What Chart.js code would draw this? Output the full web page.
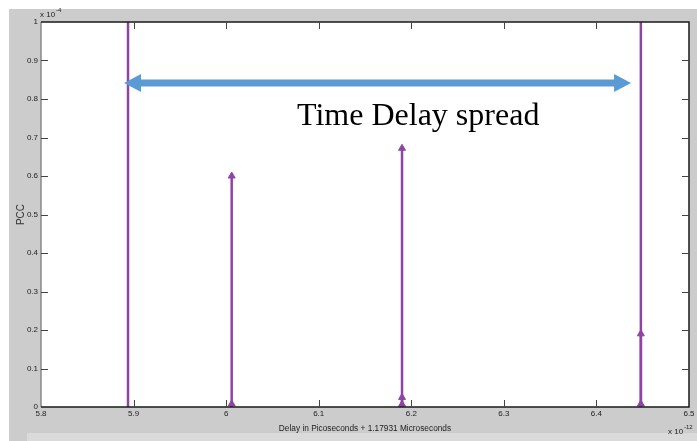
<!DOCTYPE html>
<html>
<head>
<meta charset="utf-8">
<script src="https://cdn.jsdelivr.net/npm/chart.js@4.4.1/dist/chart.umd.min.js"></script>
<style>
  html, body { margin: 0; padding: 0; background: #ffffff; }
  canvas { display: block; }
</style>
</head>
<body>
<canvas id="pccChart" width="697" height="441"></canvas>
<script>
// Stem samples: delay (x 1e-12, offset from 1.17931 us) and PCC (x 1e-4)
const delays = [5.894, 6.006, 6.006, 6.19, 6.19, 6.19, 6.448, 6.448, 6.448];
const pccValues = [1.8, 0.6, 0.008, 0.672, 0.025, 0.007, 1.8, 0.19, 0.008];

const xTicks = [5.8, 5.9, 6.0, 6.1, 6.2, 6.3, 6.4, 6.5];
const xTickLabels = ["5.8", "5.9", "6", "6.1", "6.2", "6.3", "6.4", "6.5"];
const yTicks = [0, 0.1, 0.2, 0.3, 0.4, 0.5, 0.6, 0.7, 0.8, 0.9, 1];
const yTickLabels = ["0", "0.1", "0.2", "0.3", "0.4", "0.5", "0.6", "0.7", "0.8", "0.9", "1"];

// Spread annotation (data units)
const spreadFrom = 5.8897;
const spreadTo = 6.4374;
const spreadLevel = 0.8416;
const spreadLabel = "Time Delay spread";
const spreadLabelX = 6.0766;
const spreadLabelY = 0.7325;

const STEM_COLOR = "#8f44a4";
const ARROW_COLOR = "#5b9bd5";
const SMALL_FONT = "'Liberation Sans', Arial, sans-serif";

const points = delays.map((d, i) => ({ x: d, y: pccValues[i] }));

// Figure background, stems, axes box, inward ticks and the spread arrow
const matlabFigure = {
    id: "matlabFigure",
    beforeDraw(chart) {
        const ctx = chart.ctx;
        const area = chart.chartArea;
        ctx.save();
        ctx.fillStyle = "#cccccc";
        ctx.fillRect(9, 9, chart.width - 9, chart.height - 9);
        ctx.fillStyle = "#dadada";
        ctx.fillRect(27, 433, chart.width - 27, chart.height - 433);
        ctx.fillStyle = "#ffffff";
        ctx.fillRect(area.left, area.top, area.right - area.left, area.bottom - area.top);
        ctx.restore();
    },
    beforeDatasetsDraw(chart) {
        const ctx = chart.ctx;
        const area = chart.chartArea;
        const xs = chart.scales.x;
        const ys = chart.scales.y;
        ctx.save();
        ctx.beginPath();
        ctx.rect(area.left, area.top, area.right - area.left, area.bottom - area.top);
        ctx.clip();
        ctx.strokeStyle = STEM_COLOR;
        ctx.lineWidth = 2.5;
        points.forEach((p) => {
            const px = xs.getPixelForValue(p.x);
            ctx.beginPath();
            ctx.moveTo(px, ys.getPixelForValue(0));
            ctx.lineTo(px, ys.getPixelForValue(p.y));
            ctx.stroke();
        });
        ctx.restore();
    },
    afterDatasetsDraw(chart) {
        const ctx = chart.ctx;
        const area = chart.chartArea;
        const xs = chart.scales.x;
        const ys = chart.scales.y;
        ctx.save();

        // axes box
        ctx.lineWidth = 1.5;
        ctx.strokeStyle = "#888888";
        ctx.beginPath();
        ctx.moveTo(area.left, area.top);
        ctx.lineTo(area.left, area.bottom);
        ctx.stroke();
        ctx.strokeStyle = "#1a1a1a";
        ctx.beginPath();
        ctx.moveTo(area.left, area.bottom);
        ctx.lineTo(area.right, area.bottom);
        ctx.lineTo(area.right, area.top);
        ctx.lineTo(area.left, area.top);
        ctx.stroke();

        // inward tick marks on all four sides
        const len = 7;
        ctx.lineWidth = 1;
        ctx.strokeStyle = "#444444";
        xTicks.slice(1, -1).forEach((v) => {
            const px = Math.round(xs.getPixelForValue(v)) + 0.5;
            ctx.beginPath();
            ctx.moveTo(px, area.bottom);
            ctx.lineTo(px, area.bottom - len);
            ctx.moveTo(px, area.top);
            ctx.lineTo(px, area.top + len);
            ctx.stroke();
        });
        yTicks.slice(1, -1).forEach((v) => {
            const py = Math.round(ys.getPixelForValue(v)) + 0.5;
            ctx.beginPath();
            ctx.moveTo(area.left, py);
            ctx.lineTo(area.left + len, py);
            ctx.moveTo(area.right, py);
            ctx.lineTo(area.right - len, py);
            ctx.stroke();
        });

        // exponent markers
        ctx.fillStyle = "#222222";
        ctx.textBaseline = "alphabetic";
        ctx.textAlign = "left";
        ctx.font = "8px " + SMALL_FONT;
        ctx.fillText("x 10", area.left - 1, area.top - 5);
        ctx.font = "6px " + SMALL_FONT;
        ctx.fillText("-4", area.left + 15, area.top - 10);
        ctx.font = "8px " + SMALL_FONT;
        ctx.fillText("x 10", area.right - 21, 434);
        ctx.font = "6px " + SMALL_FONT;
        ctx.fillText("-12", area.right - 5, 429);

        // double-headed spread arrow
        const x1 = xs.getPixelForValue(spreadFrom);
        const x2 = xs.getPixelForValue(spreadTo);
        const ay = ys.getPixelForValue(spreadLevel);
        const head = 17;
        const halfHead = 9;
        const halfShaft = 3.5;
        ctx.fillStyle = ARROW_COLOR;
        ctx.beginPath();
        ctx.moveTo(x1, ay);
        ctx.lineTo(x1 + head, ay - halfHead);
        ctx.lineTo(x1 + head, ay - halfShaft);
        ctx.lineTo(x2 - head, ay - halfShaft);
        ctx.lineTo(x2 - head, ay - halfHead);
        ctx.lineTo(x2, ay);
        ctx.lineTo(x2 - head, ay + halfHead);
        ctx.lineTo(x2 - head, ay + halfShaft);
        ctx.lineTo(x1 + head, ay + halfShaft);
        ctx.lineTo(x1 + head, ay + halfHead);
        ctx.closePath();
        ctx.fill();

        ctx.fillStyle = "#000000";
        ctx.font = "32px 'Liberation Serif', 'Times New Roman', serif";
        ctx.fillText(spreadLabel, xs.getPixelForValue(spreadLabelX), ys.getPixelForValue(spreadLabelY));
        ctx.restore();
    },
};

new Chart(document.getElementById("pccChart"), {
    type: "scatter",
    data: {
        datasets: [
            {
                label: "PCC",
                data: points,
                pointStyle: "triangle",
                pointRadius: 4,
                pointBackgroundColor: STEM_COLOR,
                pointBorderColor: STEM_COLOR,
                pointBorderWidth: 1,
                clip: 0,
            },
        ],
    },
    options: {
        responsive: false,
        animation: false,
        layout: { padding: { top: 22, right: 8, left: 0, bottom: 0 } },
        plugins: {
            legend: { display: false },
            tooltip: { enabled: false },
        },
        scales: {
            x: {
                type: "linear",
                min: 5.8,
                max: 6.5,
                afterBuildTicks: (scale) => {
                    scale.ticks = xTicks.map((v) => ({ value: v }));
                },
                afterFit: (scale) => {
                    scale.height = 34;
                },
                ticks: {
                    callback: (v, i) => xTickLabels[i],
                    color: "#222222",
                    font: { family: SMALL_FONT, size: 8 },
                    padding: 2,
                    maxRotation: 0,
                },
                grid: { display: false, drawTicks: false },
                border: { display: false },
                title: {
                    display: true,
                    text: "Delay in Picoseconds + 1.17931 Microseconds",
                    color: "#222222",
                    font: { family: SMALL_FONT, size: 8.3 },
                    padding: { top: 0, bottom: 7 },
                },
            },
            y: {
                type: "linear",
                min: 0,
                max: 1,
                afterBuildTicks: (scale) => {
                    scale.ticks = yTicks.map((v) => ({ value: v }));
                },
                afterFit: (scale) => {
                    scale.width = 41;
                },
                ticks: {
                    callback: (v, i) => yTickLabels[i],
                    color: "#222222",
                    font: { family: SMALL_FONT, size: 8 },
                    padding: 3,
                },
                grid: { display: false, drawTicks: false },
                border: { display: false },
                title: {
                    display: true,
                    text: "PCC",
                    color: "#333333",
                    font: { family: SMALL_FONT, size: 10 },
                    padding: { top: 15, bottom: 0 },
                },
            },
        },
    },
    plugins: [matlabFigure],
});
</script>
</body>
</html>
